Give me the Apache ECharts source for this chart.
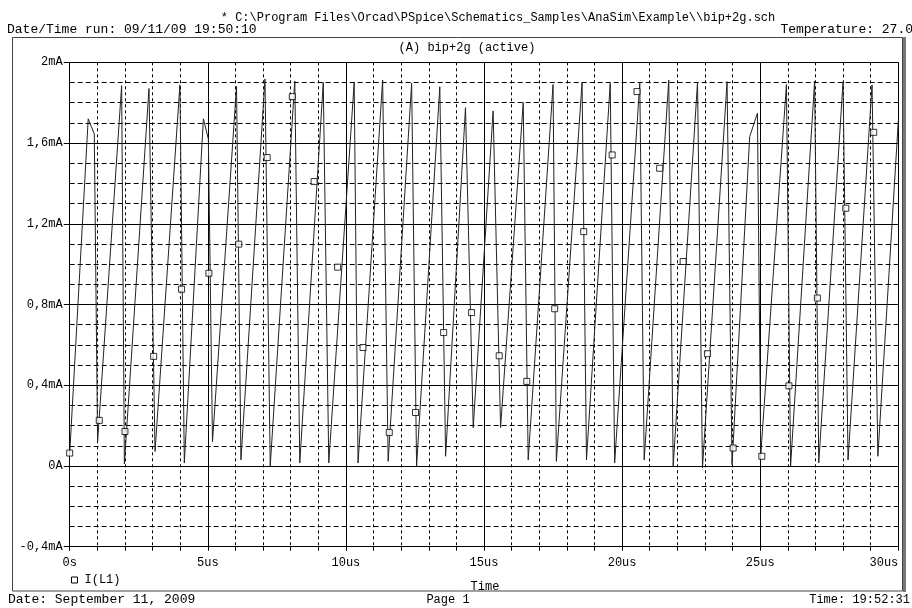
<!DOCTYPE html>
<html>
<head>
<meta charset="utf-8">
<script src="https://cdn.jsdelivr.net/npm/echarts@6/dist/echarts.min.js"></script>
<style>html,body{margin:0;padding:0;background:#fff;}#c{width:912px;height:608px;}</style>
</head>
<body>
<div id="c"></div>
<script>
// Trace I(L1): time in microseconds, current in mA
const traceTime = [0.00,0.67,0.89,1.01,1.88,1.98,2.87,3.09,3.99,4.15,4.84,5.02,5.17,6.04,6.20,7.07,7.26,8.15,8.33,9.18,9.38,10.30,10.44,11.33,11.53,12.38,12.56,13.40,13.61,14.33,14.61,15.33,15.60,16.42,16.60,17.50,17.62,18.55,18.71,19.57,19.73,20.64,20.80,21.69,21.85,22.73,22.91,23.80,23.98,24.62,24.90,25.02,25.95,26.10,26.97,27.12,28.00,28.18,29.05,29.26,30.00];
const traceCurrent = [0.06,1.72,1.645,0.12,1.884,0.01,1.87,0.072,1.888,0.015,1.72,1.62,0.12,1.88,0.03,1.917,0.00,1.907,0.015,1.90,0.015,1.90,0.015,1.912,0.023,1.896,0.00,1.879,0.048,1.775,0.19,1.759,0.19,1.80,0.03,1.89,0.023,1.90,0.03,1.896,0.015,1.896,0.03,1.912,0.00,1.90,-0.01,1.904,0.006,1.632,1.748,0.055,1.89,0.00,1.907,0.015,1.904,0.03,1.888,0.048,1.71];
// Marker squares placed along the trace
const markerTime = [0.00,1.07,2.00,3.04,4.05,5.04,6.12,7.15,8.06,8.85,9.70,10.62,11.57,12.52,13.54,14.55,15.55,16.55,17.56,18.61,19.64,20.54,21.36,22.21,23.09,24.02,25.06,26.04,27.07,28.10,29.11];
const markerCurrent = [0.064,0.226,0.171,0.543,0.876,0.955,1.099,1.528,1.83,1.409,0.985,0.587,0.166,0.265,0.661,0.76,0.546,0.419,0.779,1.161,1.541,1.855,1.475,1.013,0.556,0.089,0.048,0.397,0.832,1.277,1.653];
// Tick labels
const yTickLabels = ['-0,4mA','0A','0,4mA','0,8mA','1,2mA','1,6mA','2mA'];
const xTickLabels = ['0s','5us','10us','15us','20us','25us','30us'];
const seriesName = 'I(L1)';

const FONT = '"Liberation Mono", "DejaVu Sans Mono", monospace';
const chart = echarts.init(document.getElementById('c'), null, {renderer:'canvas'});
const traceData = traceTime.map((t,i)=>[t, traceCurrent[i]]);
const markerData = markerTime.map((t,i)=>[t, markerCurrent[i]]);

chart.setOption({
  animation:false,
  backgroundColor:'#fff',
  grid:{left:69.7, right:13.7, top:62.3, bottom:61.3, containLabel:false},
  legend:{
    data:[seriesName], left:66, top:569, icon:'rect', itemWidth:6, itemHeight:6, itemGap:4,
    itemStyle:{color:'#fff', borderColor:'#000', borderWidth:1},
    textStyle:{fontFamily:FONT, fontSize:12, color:'#000', padding:[3,0,0,2]}
  },
  xAxis:{
    type:'value', min:0, max:30, interval:5,
    axisLine:{show:true, onZero:false, lineStyle:{color:'#000', width:1}},
    axisTick:{show:true, length:4, lineStyle:{color:'#000'}},
    minorTick:{show:true, splitNumber:5, length:4, lineStyle:{color:'#000'}},
    axisLabel:{fontFamily:FONT, fontSize:12, color:'#000', margin:10, alignMaxLabel:'right',
      formatter:v=>xTickLabels[Math.round(v/5)]},
    splitLine:{show:true, lineStyle:{color:'#000', width:1}},
    minorSplitLine:{show:true, lineStyle:{color:'#000', width:1, type:[3,3]}}
  },
  yAxis:{
    type:'value', min:-0.4, max:2, interval:0.4,
    axisLine:{show:true, onZero:false, lineStyle:{color:'#000', width:1}},
    axisTick:{show:true, length:6, lineStyle:{color:'#000'}},
    minorTick:{show:false, splitNumber:4},
    axisLabel:{fontFamily:FONT, fontSize:12, color:'#000', margin:7,
      formatter:v=>yTickLabels[Math.round((v+0.4)/0.4)]},
    splitLine:{show:true, lineStyle:{color:'#000', width:1}},
    minorSplitLine:{show:true, lineStyle:{color:'#000', width:1, type:[5,3]}}
  },
  series:[
    {name:seriesName, type:'line', data:traceData, showSymbol:false, symbol:'none',
     lineStyle:{color:'#222', width:1}, z:3},
    {name:seriesName, type:'scatter', data:markerData, symbol:'rect', symbolSize:6,
     itemStyle:{color:'#fff', borderColor:'#000', borderWidth:1}, z:4}
  ],
  graphic:[
    {type:'rect', shape:{x:12.5, y:37.5, width:890, height:553.5}, style:{fill:null, stroke:'#444', lineWidth:1}, silent:true},
    {type:'rect', shape:{x:903, y:37, width:3, height:555}, style:{fill:'#777'}, silent:true},
    {type:'text', x:498, y:18, style:{text:'* C:\\Program Files\\Orcad\\PSpice\\Schematics_Samples\\AnaSim\\Example\\\\bip+2g.sch', font:'12px '+FONT, fill:'#000', align:'center', verticalAlign:'middle'}},
    {type:'text', x:7, y:30, style:{text:'Date/Time run: 09/11/09 19:50:10', font:'13px '+FONT, fill:'#000', align:'left', verticalAlign:'middle'}},
    {type:'text', x:913, y:30, style:{text:'Temperature: 27.0', font:'13px '+FONT, fill:'#000', align:'right', verticalAlign:'middle'}},
    {type:'text', x:467, y:48, style:{text:'(A) bip+2g (active)', font:'12px '+FONT, fill:'#000', align:'center', verticalAlign:'middle'}},
    {type:'text', x:485, y:587, style:{text:'Time', font:'12px '+FONT, fill:'#000', align:'center', verticalAlign:'middle'}},
    {type:'text', x:8, y:600, style:{text:'Date: September 11, 2009', font:'13px '+FONT, fill:'#000', align:'left', verticalAlign:'middle'}},
    {type:'text', x:448, y:600, style:{text:'Page 1', font:'12px '+FONT, fill:'#000', align:'center', verticalAlign:'middle'}},
    {type:'text', x:910, y:600, style:{text:'Time: 19:52:31', font:'12px '+FONT, fill:'#000', align:'right', verticalAlign:'middle'}}
  ]
});
</script>
</body>
</html>
